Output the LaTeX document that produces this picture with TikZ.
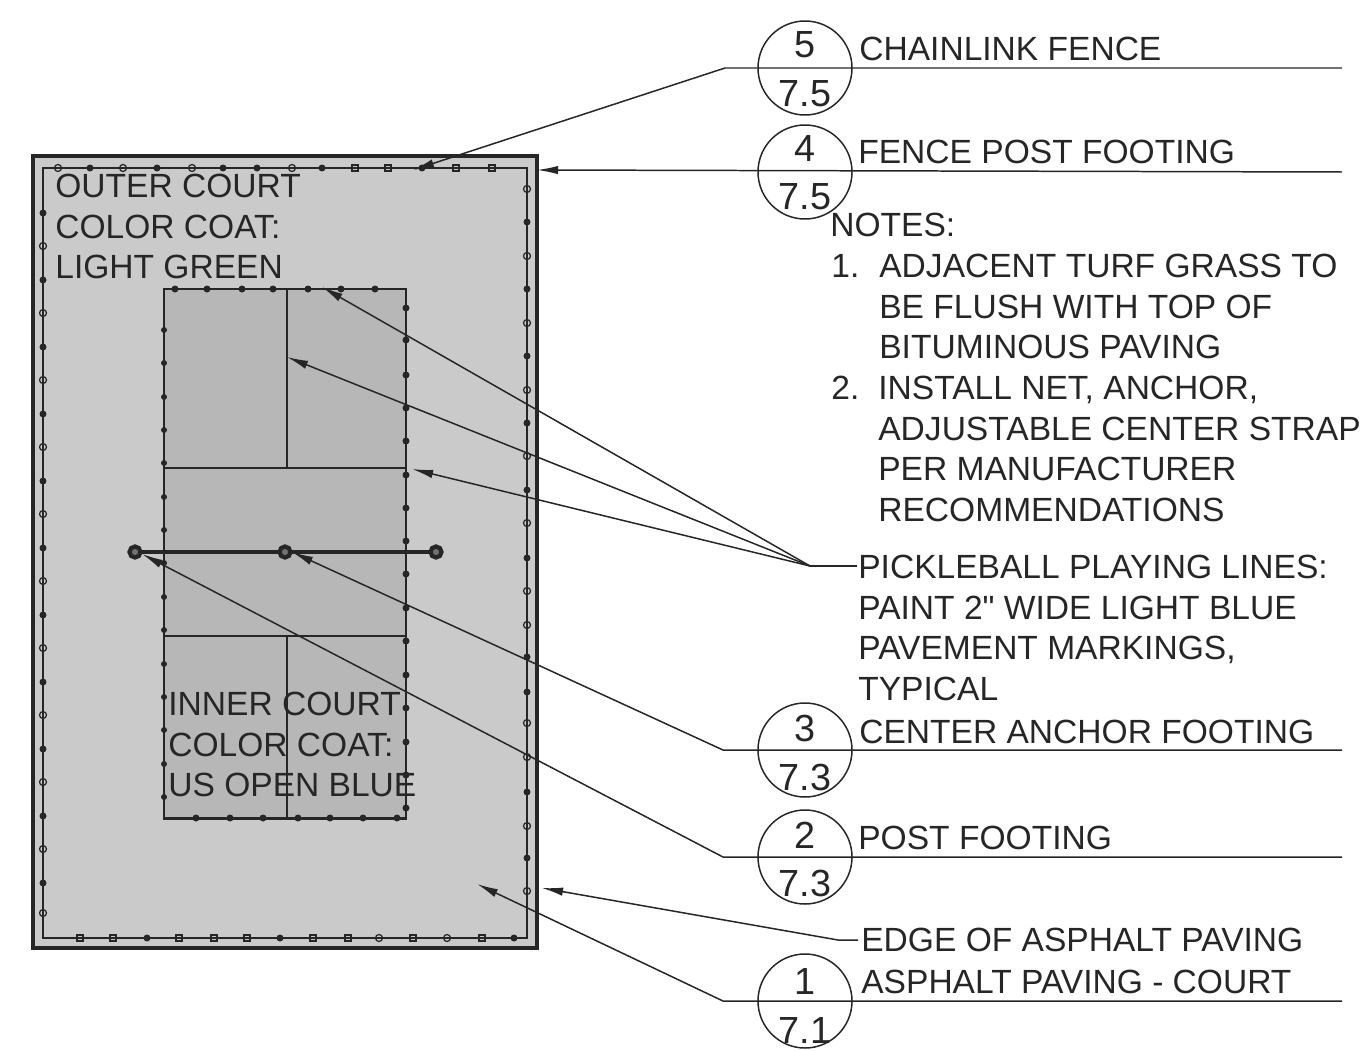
\documentclass[tikz,border=0pt]{standalone}
\usepackage{fontspec}
\newfontfamily\labelfont{Liberation Sans}
\usetikzlibrary{
    arrows.meta,
    calc,
    positioning
}
\definecolor{outercoat}{HTML}{CACACA}
\definecolor{innercoat}{HTML}{B7B7B7}
\definecolor{ink}{HTML}{262626}
\tikzset{
    leader/.style={draw=ink, line width=0.85pt},
    pointer/.style={leader, -{Latex[length=12pt, width=4.8pt]}},
    label/.style={text=ink, font=\labelfont\fontsize{19.1}{23}\selectfont, inner sep=0pt, align=left, anchor=north west},
    detail/.style={circle, draw=ink, line width=0.85pt, minimum size=53.5pt, inner sep=0pt},
    tagnum/.style={text=ink, font=\labelfont\fontsize{21.5}{24}\selectfont, inner sep=0pt},
    courtline/.style={draw=ink, line width=1.3pt},
    postfill/.style={fill=ink},
    postopen/.style={draw=ink, line width=0.7pt, fill=none}
}
\begin{document}
\begin{tikzpicture}[x=0.02cm, y=-0.02cm]
    \useasboundingbox (0, 0) rectangle (1362, 1051);
    % court surfaces
    \draw[fill=outercoat, draw=ink, line width=2.2pt] (33, 156) rectangle (537, 948);
    \draw[fill=innercoat, draw=ink, line width=1.7pt] (164, 289) rectangle (406, 818);
    % fence line
    \draw[ink, line width=0.9pt] (43, 168) rectangle (527, 938);
    % playing lines
    \draw[courtline] (164, 468) -- (406, 468);
    \draw[courtline] (164, 636) -- (406, 636);
    \draw[courtline] (287, 289) -- (287, 468);
    \draw[courtline] (287, 636) -- (287, 818);
    % fence posts
    \foreach \x in {147, 280, 514}
        \fill[postfill] (\x, 938) circle (3.5);
    \foreach \x in {80, 113, 179, 214, 247, 313, 348, 413, 482}
        \draw[postopen] (\x-3, 935) rectangle (\x+3, 941);
    \foreach \x in {379, 447}
        \draw[postopen] (\x, 938) circle (3.5);
    \foreach \y in {558, 657, 692, 792, 858, 490, 423, 356, 289, 222}
        \fill[postfill] (527, \y) circle (3.5);
    \foreach \y in {523, 591, 625, 723, 757, 826, 891, 456, 390, 323, 256, 189}
        \draw[postopen] (527, \y) circle (3.5);
    \foreach \y in {213, 280, 347, 414, 481, 548, 615, 682, 749, 816, 883}
        \fill[postfill] (43, \y) circle (3.5);
    \foreach \y in {246, 313, 380, 447, 514, 581, 648, 715, 782, 849, 913}
        \draw[postopen] (43, \y) circle (3.5);
    \foreach \x in {90, 157, 223, 257, 322, 422}
        \fill[postfill] (\x, 168) circle (3.5);
    \foreach \x in {58, 123, 192, 292}
        \draw[postopen] (\x, 168) circle (3.5);
    \foreach \x in {355, 388, 456, 492}
        \draw[postopen] (\x-3, 165) rectangle (\x+3, 171);
    \foreach \x in {175, 207, 242, 273, 308, 341, 375}
        \fill[postfill] (\x, 289) circle (3.5);
    \foreach \x in {196, 230, 263, 298, 330, 363, 397}
        \fill[postfill] (\x, 818) circle (3.5);
    \foreach \y in {308, 340, 375, 408, 441, 475, 508, 541, 574, 608, 641, 675, 708, 742, 775, 808}
        \fill[postfill] (406, \y) circle (3.5);
    \foreach \y in {330, 363, 397, 430, 463, 497, 530, 563, 597, 630, 664, 697, 730, 764, 797}
        \fill[postfill] (164, \y) circle (3);
    % net and posts
    \coordinate (netwest) at (135, 552);
    \coordinate (netmid) at (285, 552);
    \coordinate (neteast) at (436, 552);
    \draw[ink, line width=2pt] (netwest) -- (neteast);
    \foreach \p in {netwest, netmid, neteast}
        \draw[ink, line width=2.4pt, fill=ink!65] (\p) circle (5.5);
    % detail tags
    \node[detail] (tagfive) at (805, 68) {};
    \node[detail] (tagfour) at (805, 172) {};
    \node[detail] (tagthree) at (805, 750) {};
    \node[detail] (tagtwo) at (805, 857) {};
    \node[detail] (tagone) at (805, 1001) {};
    \node[tagnum] (numfive) at (805, 45) {5};
    \node[tagnum] (shtfive) at (805, 94) {7.5};
    \node[tagnum] (numfour) at (805, 149) {4};
    \node[tagnum] (shtfour) at (805, 197) {7.5};
    \node[tagnum] (numthree) at (805, 728) {3};
    \node[tagnum] (shtthree) at (805, 777) {7.3};
    \node[tagnum] (numtwo) at (805, 835) {2};
    \node[tagnum] (shttwo) at (805, 883) {7.3};
    \node[tagnum] (numone) at (805, 981) {1};
    \node[tagnum] (shtone) at (805, 1030) {7.1};
    % labels
    \node[label] (outer) at (55, 174) {OUTER COURT\\COLOR COAT:\\LIGHT GREEN};
    \node[label] (inner) at (168, 692) {INNER COURT\\COLOR COAT:\\US OPEN BLUE};
    \node[label] (fence) at (859, 37) {CHAINLINK FENCE};
    \node[label] (footing) at (858, 140) {FENCE POST FOOTING};
    \node[label] (notes) at (830, 213) {NOTES:};
    \node[label] (noteone) at (831, 254) {1.};
    \node[label] (notetwo) at (831, 376) {2.};
    \node[label] (onetext) at (879, 254) {ADJACENT TURF GRASS TO\\BE FLUSH WITH TOP OF\\BITUMINOUS PAVING};
    \node[label] (twotext) at (878, 376) {INSTALL NET, ANCHOR,\\ADJUSTABLE CENTER STRAP\\PER MANUFACTURER\\RECOMMENDATIONS};
    \node[label] (lines) at (858, 555) {PICKLEBALL PLAYING LINES:\\PAINT 2" WIDE LIGHT BLUE\\PAVEMENT MARKINGS,\\TYPICAL};
    \node[label] (anchor) at (859, 720) {CENTER ANCHOR FOOTING};
    \node[label] (post) at (858, 826) {POST FOOTING};
    \node[label] (edge) at (861, 928) {EDGE OF ASPHALT PAVING};
    \node[label] (paving) at (861, 970) {ASPHALT PAVING - COURT};
    % leaders
    \coordinate (endfive) at (1342, 68);
    \coordinate (endfour) at (1342, 172);
    \coordinate (endthree) at (1342, 750);
    \coordinate (endtwo) at (1342, 857);
    \coordinate (endone) at (1342, 1001);
    \coordinate (kneefive) at (725, 68);
    \coordinate (kneethree) at (723, 750);
    \coordinate (kneetwo) at (723, 857);
    \coordinate (kneeone) at (723, 1001);
    \coordinate (kneelines) at (810, 566);
    \coordinate (kneeedge) at (838, 940);
    \coordinate (linesout) at (857, 566);
    \coordinate (edgeout) at (858, 940);
    \coordinate (fencetip) at (413, 170);
    \coordinate (posttip) at (537, 170);
    \coordinate (topline) at (322, 287);
    \coordinate (centerline) at (287, 357);
    \coordinate (kitchenline) at (412, 469);
    \coordinate (anchortip) at (292, 552);
    \coordinate (footingtip) at (142, 554);
    \coordinate (asphalttip) at (542, 888);
    \coordinate (pavingtip) at (477, 884);
    \draw[pointer] (endfive) -- (kneefive) -- (fencetip);
    \draw[pointer] (endfour) -- (posttip);
    \draw[pointer] (endthree) -- (kneethree) -- (anchortip);
    \draw[pointer] (endtwo) -- (kneetwo) -- (footingtip);
    \draw[pointer] (endone) -- (kneeone) -- (pavingtip);
    \draw[pointer] (edgeout) -- (kneeedge) -- (asphalttip);
    \draw[leader] (linesout) -- (kneelines);
    \draw
    (kneelines) edge[pointer] (topline)
    (kneelines) edge[pointer] (centerline)
    (kneelines) edge[pointer] (kitchenline);
\end{tikzpicture}
\end{document}
